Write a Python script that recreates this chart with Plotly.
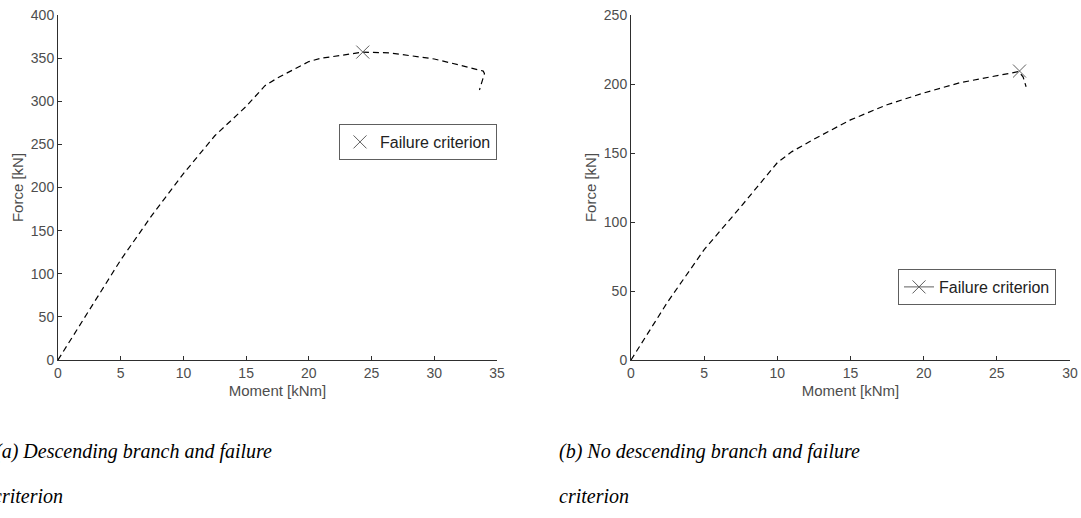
import plotly.graph_objects as go

# Moment-force curve, case (a): descending branch after the peak
moment_a = [0, 2.5, 5.0, 7.5, 10.0, 12.5, 15.0, 16.5, 17.5, 20.0, 21.0, 22.5,
            24.3, 26.5, 28.0, 30.0, 32.0, 33.9, 34.0, 33.6]
force_a = [0, 58, 116, 168, 216, 260, 294, 318, 327, 346, 350, 353,
           357, 356, 353, 349, 342, 335, 332, 313]
fail_moment_a = [24.3]
fail_force_a = [357]

# Moment-force curve, case (b): no descending branch
moment_b = [0, 2.5, 5.0, 7.5, 10.0, 11.0, 12.5, 15.0, 17.5, 20.0, 22.5,
            25.0, 26.5, 26.8, 27.0]
force_b = [0, 42, 80, 111, 143, 151, 160, 174, 185, 193.5, 201,
           206, 209, 205, 198]
fail_moment_b = [26.55]
fail_force_b = [209.4]

x_ticks_a = [0, 5, 10, 15, 20, 25, 30, 35]
y_ticks_a = [0, 50, 100, 150, 200, 250, 300, 350, 400]
x_ticks_b = [0, 5, 10, 15, 20, 25, 30]
y_ticks_b = [0, 50, 100, 150, 200, 250]

W, H = 1081, 518
AXIS_COLOR = "#2e2e2e"
TEXT_COLOR = "#4d4d4d"
MARK_COLOR = "#5e5e5e"
FONT = "Liberation Sans, Arial, sans-serif"
CAPTION_FONT = dict(family="Liberation Serif, Times New Roman, serif",
                    size=20, color="black", style="italic")

fig = go.Figure()

curve_line = dict(color="black", width=1.2, dash="6px,4px")
fail_marker = dict(symbol="x-thin-open", size=13, color=MARK_COLOR,
                   line=dict(color=MARK_COLOR, width=1))

fig.add_trace(go.Scatter(x=moment_a, y=force_a, mode="lines", line=curve_line,
                         showlegend=False, xaxis="x", yaxis="y"))
fig.add_trace(go.Scatter(x=fail_moment_a, y=fail_force_a, mode="markers",
                         name="Failure criterion", marker=fail_marker,
                         xaxis="x", yaxis="y", legend="legend"))

fig.add_trace(go.Scatter(x=moment_b, y=force_b, mode="lines", line=curve_line,
                         showlegend=False, xaxis="x2", yaxis="y2"))
fig.add_trace(go.Scatter(x=fail_moment_b, y=fail_force_b, mode="lines+markers",
                         name="Failure criterion",
                         line=dict(color=MARK_COLOR, width=1),
                         marker=fail_marker,
                         xaxis="x2", yaxis="y2", legend="legend2"))


def px_x(p):
    return p / W


def px_y(p):
    return 1 - p / H


axis_common = dict(showgrid=False, zeroline=False, showline=True,
                   linecolor=AXIS_COLOR, linewidth=1, ticks="inside",
                   ticklen=4, tickcolor=AXIS_COLOR, mirror=False,
                   tickfont=dict(family=FONT, size=14, color=TEXT_COLOR),
                   automargin=False, tickmode="array")
title_font = dict(family=FONT, size=15, color=TEXT_COLOR)
legend_common = dict(xanchor="left", yanchor="top", bgcolor="white",
                     bordercolor=MARK_COLOR, borderwidth=1,
                     font=dict(family=FONT, size=16, color="#222222"),
                     itemwidth=30, tracegroupgap=0)

y_domain = [px_y(360), px_y(15)]

fig.update_layout(
    width=W, height=H,
    margin=dict(l=0, r=0, t=0, b=0),
    paper_bgcolor="white", plot_bgcolor="white",
    xaxis=dict(axis_common, domain=[px_x(58), px_x(497)], range=[0, 35],
               tickvals=x_ticks_a, anchor="y",
               title=dict(text="Moment [kNm]", standoff=5, font=title_font)),
    yaxis=dict(axis_common, domain=y_domain, range=[0, 400],
               tickvals=y_ticks_a, anchor="x",
               title=dict(text="Force [kN]", standoff=3, font=title_font)),
    xaxis2=dict(axis_common, domain=[px_x(631), px_x(1070)], range=[0, 30],
                tickvals=x_ticks_b, anchor="y2",
                title=dict(text="Moment [kNm]", standoff=5, font=title_font)),
    yaxis2=dict(axis_common, domain=y_domain, range=[0, 250],
                tickvals=y_ticks_b, anchor="x2",
                title=dict(text="Force [kN]", standoff=3, font=title_font)),
    legend=dict(legend_common, x=px_x(339), y=px_y(124)),
    legend2=dict(legend_common, x=px_x(898), y=px_y(269)),
)

captions = [
    ("(a) Descending branch and failure", -7, 451),
    ("criterion", -9, 496),
    ("(b) No descending branch and failure", 557, 451),
    ("criterion", 557, 496),
]
for text, x0, y0 in captions:
    fig.add_annotation(text=text, xref="paper", yref="paper",
                       x=px_x(x0), y=px_y(y0), xanchor="left", yanchor="middle",
                       showarrow=False, font=CAPTION_FONT)

fig.write_html("out.html")
